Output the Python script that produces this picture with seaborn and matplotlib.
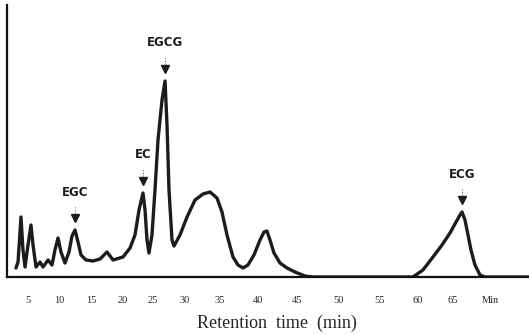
import numpy as np
import pandas as pd
import matplotlib
matplotlib.use("Agg")
import matplotlib.pyplot as plt
import seaborn as sns

# chromatogram trace (retention time in min, detector signal in arbitrary units)
time_min = [3.06, 3.39, 3.87, 4.19, 4.52, 5.00, 5.48, 5.81, 6.29, 6.94, 7.42, 8.23, 8.87, 9.35, 9.84,
            10.31, 10.94, 11.56, 12.03, 12.50, 12.97, 13.44, 14.22, 15.31, 16.41, 17.50, 18.44, 20.00,
            21.17, 22.00, 22.67, 23.33, 23.67, 24.00, 24.33, 24.83, 25.31, 25.78, 26.41, 26.88, 27.19,
            27.50, 27.97, 28.28, 29.22, 30.29, 31.43, 32.57, 33.57, 34.57, 35.26, 35.92, 36.71, 37.37,
            38.03, 38.68, 39.47, 40.26, 40.77, 41.15, 41.54, 42.05, 42.82, 43.72, 44.74, 45.95, 46.90,
            59.34, 60.71, 62.14, 63.43, 64.57, 65.41, 65.95, 66.22, 66.62, 67.03, 67.43, 67.97, 68.65,
            69.30, 75.30]
signal = [9, 15, 60, 27, 10, 32, 52, 32, 10, 15, 10, 17, 12, 27, 39,
          25, 14, 25, 41, 47, 35, 22, 17, 16, 18, 25, 17, 20,
          29, 42, 67, 84, 67, 37, 24, 42, 87, 137, 177, 196, 152,
          87, 37, 31, 42, 60, 77, 83, 85, 79, 65, 42, 20, 12,
          9, 12, 22, 37, 45, 46, 37, 24, 14, 9, 5, 1, 0,
          0, 7, 20, 32, 44, 55, 62, 65, 57, 42, 27, 12, 2,
          0, 0]

peak_names = ["EGC", "EC", "EGCG", "ECG"]
peak_time = [12.50, 23.33, 26.88, 66.22]
peak_height = [47, 84, 196, 65]

tick_values = [5, 10, 15, 20, 25, 30, 35, 40, 45, 50, 55, 60, 65, 70]
tick_labels = ["5", "10", "15", "20", "25", "30", "35", "40", "45", "50", "55", "60", "65", "Min"]

# the printed axis is not evenly spaced, so map minutes onto where the labels sit in the figure
scale_min = [0] + tick_values + [80]
scale_pos = [-3, 28, 59, 91, 123, 153, 185, 220, 258, 297, 339, 380, 418, 453, 490, 564]


def fwd(t):
    return np.interp(t, scale_min, scale_pos)


def inv(p):
    return np.interp(p, scale_pos, scale_min)


df = pd.DataFrame({"time": time_min, "signal": signal})

sns.set_style("white")
plt.rcParams["font.family"] = ["DejaVu Sans"]

fig = plt.figure(figsize=(5.29, 3.35), dpi=100)
ax = fig.add_axes([7 / 529, 1 - 277 / 335, 1 - 7 / 529, (277 - 5) / 335])

sns.lineplot(data=df, x="time", y="signal", color="#1c1c1c", linewidth=2.4, ax=ax)

ax.set_xscale("function", functions=(fwd, inv))
ax.set_xlim(inv(7), inv(529))
ax.set_ylim(0, 272)

# peak markers and names
for name, t, h in zip(peak_names, peak_time, peak_height):
    ax.plot([t], [h + 12], marker="v", markersize=6, color="#1c1c1c", linestyle="none")
    ax.plot([t, t], [h + 17, h + 24], color="#555555", linewidth=0.7, linestyle=":")
    ax.text(t, h + 38, name, ha="center", va="center", fontsize=8.5,
            fontweight="bold", color="#1c1c1c")

ax.set_xticks(tick_values)
ax.set_xticklabels(tick_labels, family="Liberation Serif", fontsize=7.5)
ax.tick_params(axis="x", length=0, pad=14)
ax.set_yticks([])
ax.set_ylabel("")
ax.set_xlabel("Retention  time  (min)", family="Liberation Serif", fontsize=13)
ax.xaxis.set_label_coords((277 - 7) / 522, -(323 - 277) / 272)
ax.xaxis.label.set_va("center")

sns.despine(ax=ax, top=True, right=True)
for side in ["left", "bottom"]:
    ax.spines[side].set_color("#111111")
    ax.spines[side].set_linewidth(1.6)

fig.savefig("out.png", dpi=100)
